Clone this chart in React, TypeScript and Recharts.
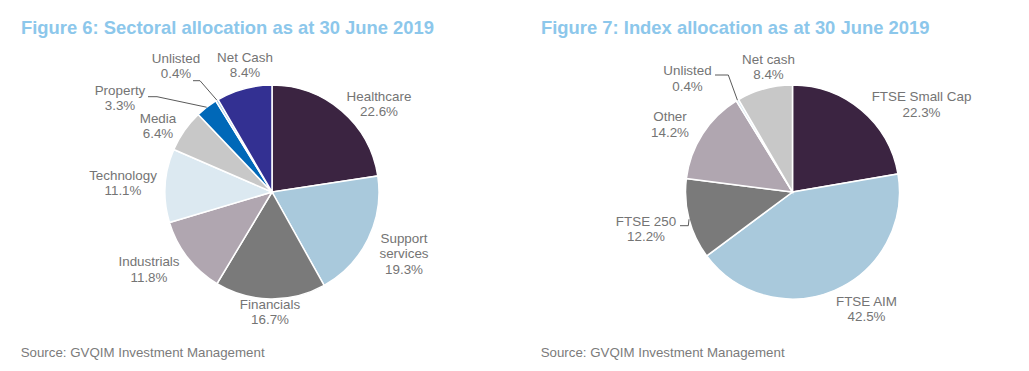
import React from "react";
import { PieChart, Pie, Cell } from "recharts";

// ---- Data ----
const sectorNames = [
  "Healthcare",
  "Support services",
  "Financials",
  "Industrials",
  "Technology",
  "Media",
  "Property",
  "Unlisted",
  "Net Cash",
];
const sectorValues = [22.6, 19.3, 16.7, 11.8, 11.1, 6.4, 3.3, 0.4, 8.4];

const indexNames = ["FTSE Small Cap", "FTSE AIM", "FTSE 250", "Other", "Unlisted", "Net cash"];
const indexValues = [22.3, 42.5, 12.2, 14.2, 0.4, 8.4];

const titles = [
  "Figure 6: Sectoral allocation as at 30 June 2019",
  "Figure 7: Index allocation as at 30 June 2019",
];
const sourceText = "Source: GVQIM Investment Management";

// ---- Styles ----
const sectorColors = [
  "#3b2441",
  "#a9c9dc",
  "#7a7a7a",
  "#b0a6b0",
  "#dce9f1",
  "#c8c8c8",
  "#0068b8",
  "#9dc3e6",
  "#333092",
];
const indexColors = ["#3b2441", "#a9c9dc", "#7a7a7a", "#b0a6b0", "#dce9f1", "#c8c8c8"];

const FONT = "'Liberation Sans', Arial, sans-serif";
const LABEL_COLOR = "#747474";
const TITLE_COLOR = "#8cc7eb";
const LEADER_COLOR = "#5a5a5a";
const LABEL_SIZE = 13.4;
const LINE_GAP = 15.4;

// label layout: offset of first line centre from pie centre
const sectorLabelPos: Record<string, [number, number]> = {
  Healthcare: [107, -96],
  "Support services": [132, 46],
  Financials: [-2, 112],
  Industrials: [-123, 69.5],
  Technology: [-149, -17],
  Media: [-114, -74],
  Property: [-152, -102],
  Unlisted: [-96, -134],
  "Net Cash": [-27, -135],
};
const indexLabelPos: Record<string, [number, number]> = {
  "FTSE Small Cap": [129, -95.5],
  "FTSE AIM": [74, 109],
  "FTSE 250": [-146.5, 29],
  Other: [-122.5, -75.5],
  Unlisted: [-105, -121.5],
  "Net cash": [-24, -133],
};
// leader lines: elbow start and end (relative to pie centre); then goes to slice edge
const sectorLeaders: Record<string, [number, number, number, number]> = {
  Unlisted: [-79, -111.3, -72, -111.3],
  Property: [-124, -95.3, -115, -95.3],
};
const indexLeaders: Record<string, [number, number, number, number]> = {
  Unlisted: [-77.5, -117, -64.2, -117],
  "FTSE 250": [-112.5, 33.7, -104.2, 33.7],
};
const wrapLines: Record<string, string[]> = {
  "Support services": ["Support", "services"],
};

const sectorData = sectorNames.map((name, i) => ({ name, value: sectorValues[i] }));
const indexData = indexNames.map((name, i) => ({ name, value: indexValues[i] }));

const makeLabel =
  (
    pos: Record<string, [number, number]>,
    leaders: Record<string, [number, number, number, number]>
  ) =>
  (props: any) => {
    const { cx, cy, midAngle, outerRadius, name, value } = props;
    const p = pos[name];
    if (!p) return null;
    const lines = [...(wrapLines[name] || [name]), `${Number(value).toFixed(1)}%`];
    const x = cx + p[0];
    const y0 = cy + p[1];
    const RAD = Math.PI / 180;
    const ld = leaders[name];
    let leader = null;
    if (ld) {
      const ex = cx + outerRadius * Math.cos(midAngle * RAD);
      const ey = cy - outerRadius * Math.sin(midAngle * RAD);
      leader = (
        <polyline
          points={`${cx + ld[0]},${cy + ld[1]} ${cx + ld[2]},${cy + ld[3]} ${ex},${ey}`}
          fill="none"
          stroke={LEADER_COLOR}
          strokeWidth={1}
        />
      );
    }
    return (
      <g key={`lbl-${name}`}>
        {leader}
        <text
          x={x}
          y={y0}
          textAnchor="middle"
          fontFamily={FONT}
          fontSize={LABEL_SIZE}
          fill={LABEL_COLOR}
        >
          {lines.map((l, i) => (
            <tspan key={i} x={x} y={y0 + i * LINE_GAP + 4.8}>
              {l}
            </tspan>
          ))}
        </text>
      </g>
    );
  };

export default function App() {
  return (
    <div
      style={{
        position: "absolute",
        left: 0,
        top: 0,
        width: 1029,
        height: 371,
        background: "#ffffff",
        overflow: "hidden",
      }}
    >
      <PieChart width={1029} height={371} margin={{ top: 0, right: 0, bottom: 0, left: 0 }}>
        <Pie
          data={sectorData}
          dataKey="value"
          nameKey="name"
          cx={272}
          cy={192}
          outerRadius={107}
          startAngle={90}
          endAngle={-270}
          stroke="#ffffff"
          strokeWidth={1.5}
          isAnimationActive={false}
          labelLine={false}
          label={makeLabel(sectorLabelPos, sectorLeaders)}
        >
          {sectorData.map((d, i) => (
            <Cell key={d.name} fill={sectorColors[i]} />
          ))}
        </Pie>
        <Pie
          data={indexData}
          dataKey="value"
          nameKey="name"
          cx={792.5}
          cy={192}
          outerRadius={107}
          startAngle={90}
          endAngle={-270}
          stroke="#ffffff"
          strokeWidth={1.5}
          isAnimationActive={false}
          labelLine={false}
          label={makeLabel(indexLabelPos, indexLeaders)}
        >
          {indexData.map((d, i) => (
            <Cell key={d.name} fill={indexColors[i]} />
          ))}
        </Pie>
      </PieChart>
      <svg
        width={1029}
        height={371}
        style={{ position: "absolute", left: 0, top: 0, pointerEvents: "none" }}
      >
        {titles.map((t, i) => (
          <text
            key={t}
            x={i === 0 ? 21 : 541}
            y={34.4}
            fontFamily={FONT}
            fontWeight="bold"
            fontSize={18.4}
            fill={TITLE_COLOR}
          >
            {t}
          </text>
        ))}
        {[20.7, 540.7].map((x) => (
          <text
            key={x}
            x={x}
            y={356.6}
            fontFamily={FONT}
            fontSize={13.3}
            fill="#7b7b7b"
          >
            {sourceText}
          </text>
        ))}
      </svg>
    </div>
  );
}
